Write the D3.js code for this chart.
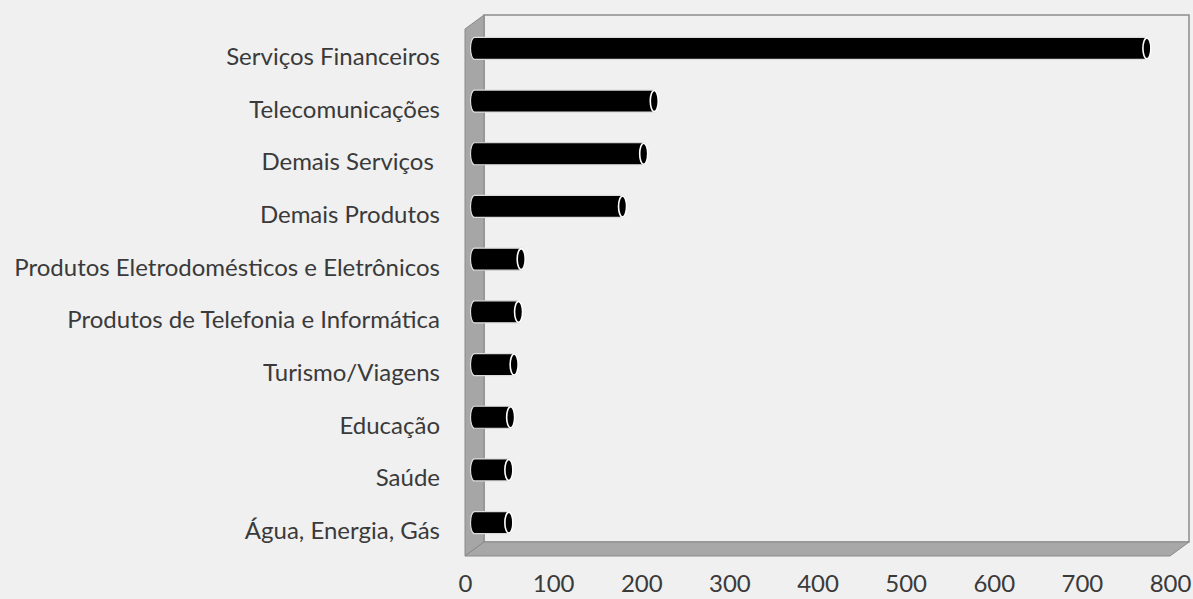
<!DOCTYPE html>
<html>
<head>
<meta charset="utf-8">
<script src="https://cdn.jsdelivr.net/npm/d3@7/dist/d3.min.js"></script>
<style>
  html, body { margin: 0; padding: 0; background: #f0f0f0; }
  svg text { font-family: Lato, "Open Sans", sans-serif; fill: #3a3a3a; }
</style>
</head>
<body>
<svg id="chart" width="1193" height="599"></svg>
<script>
// Categories top to bottom
const categories = [
  "Serviços Financeiros",
  "Telecomunicações",
  "Demais Serviços ",
  "Demais Produtos",
  "Produtos Eletrodomésticos e Eletrônicos",
  "Produtos de Telefonia e Informática",
  "Turismo/Viagens",
  "Educação",
  "Saúde",
  "Água, Energia, Gás"
];
const values = [763, 204, 192, 168, 53, 50, 45, 41, 39, 39];
const xTicks = [0, 100, 200, 300, 400, 500, 600, 700, 800];

// 3D depth offset from front plane to back wall
const DX = 19, DY = -14;

const svg = d3.select("#chart");

const x = d3.scaleLinear().domain([0, 800]).range([465, 1170]);
const y = d3.scaleBand().domain(categories).range([29, 556]).padding(0);

const pLeft = x.range()[0], pRight = x.range()[1];
const pTop = y.range()[0], pBottom = y.range()[1];

// Back wall
svg.append("rect")
  .attr("x", pLeft + DX).attr("y", pTop + DY)
  .attr("width", pRight - pLeft).attr("height", pBottom - pTop)
  .attr("fill", "#f0f0f0").attr("stroke", "#8c8c8c").attr("stroke-width", 1.5);

// Side wall
svg.append("polygon")
  .attr("points", [[pLeft, pTop], [pLeft + DX, pTop + DY], [pLeft + DX, pBottom + DY], [pLeft, pBottom]].join(" "))
  .attr("fill", "#a6a6a6").attr("stroke", "#8a8a8a").attr("stroke-width", 1);

// Floor
svg.append("polygon")
  .attr("points", [[pLeft, pBottom], [pLeft + DX, pBottom + DY], [pRight + DX, pBottom + DY], [pRight, pBottom]].join(" "))
  .attr("fill", "#a8a8a8").attr("stroke", "#8a8a8a").attr("stroke-width", 1);

// Cylinders, placed at mid depth
const bh = 22, rx = 4;
const bars = svg.append("g");
categories.forEach((c, i) => {
  const x0 = x(0) + DX / 2;
  const x1 = x(values[i]) + DX / 2;
  const cy = y(c) + y.bandwidth() / 2 + DY / 2;
  const r = bh / 2;
  bars.append("path")
    .attr("d", `M${x0},${cy - r} L${x1},${cy - r} A${rx},${r} 0 0 1 ${x1},${cy + r} L${x0},${cy + r} A${rx},${r} 0 0 1 ${x0},${cy - r} Z`)
    .attr("fill", "#000").attr("stroke", "#dcdcdc").attr("stroke-width", 1.2);
  bars.append("ellipse")
    .attr("cx", x1).attr("cy", cy).attr("rx", rx).attr("ry", r - 0.5)
    .attr("fill", "#000").attr("stroke", "#fff").attr("stroke-width", 1.6);
});

// Category labels (front plane)
svg.append("g").selectAll("text").data(categories).join("text")
  .attr("x", 440)
  .attr("y", d => y(d) + y.bandwidth() / 2)
  .attr("text-anchor", "end")
  .attr("dominant-baseline", "central")
  .style("white-space", "pre")
  .attr("font-size", "24px")
  .text(d => d);

// X axis labels
const ax = svg.append("g")
  .attr("transform", `translate(0,${pBottom + 19})`)
  .call(d3.axisBottom(x).tickValues(xTicks).tickSize(0).tickPadding(0).tickFormat(d3.format("d")));
ax.select(".domain").remove();
ax.selectAll("text")
  .attr("font-size", "24px")
  .attr("dy", "0.71em")
  .style("font-family", "Lato, 'Open Sans', sans-serif")
  .attr("fill", "#3a3a3a");
</script>
</body>
</html>
